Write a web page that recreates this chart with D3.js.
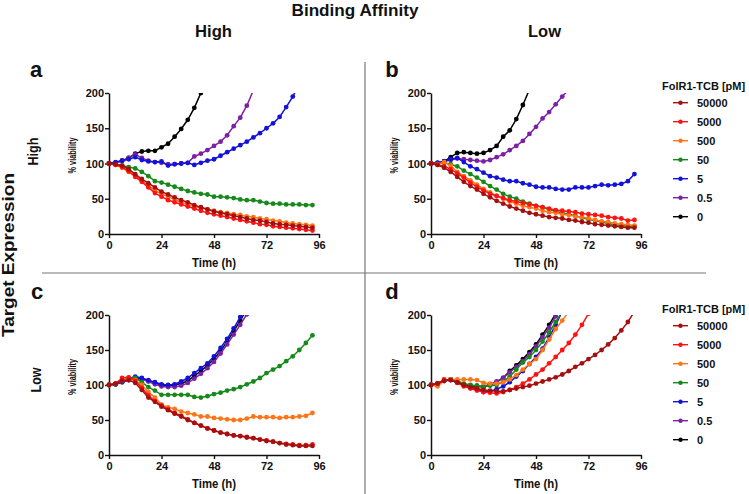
<!DOCTYPE html>
<html><head><meta charset="utf-8">
<script src="https://cdn.jsdelivr.net/npm/d3@7"></script>
<style>
html,body{margin:0;padding:0;background:#fff;}
svg{display:block;font-family:"Liberation Sans",Arial,sans-serif;}
</style></head><body>
<svg id="chart" width="749" height="494"></svg>
<script>
// ---- data ----
const times = [0,3,6,9,12,15,18,21,24,27,30,33,36,39,42,45,48,51,54,57,60,63,66,69,72,75,78,81,84,87,90,93];
const xTicks = [0,24,48,72,96];
const yTicks = [0,50,100,150,200];
const concentrations = ["50000","5000","500","50","5","0.5","0"];
const seriesColors = ["#a50f0f","#ff1212","#ff7417","#15891a","#1212d8","#7d20a6","#000000"];
const legendTitle = "FolR1-TCB [pM]";

// Panel a: high expression / high affinity
const a50000 = [100,99,97,92,85,78,72,66,60,56,52,48,45,41,38,35,32,30,28,26,24,22,20,19,17,15,14,13,12,11,10,9];
const a5000  = [100,98,95,89,81,74,66,58,53,48,45,42,39,36,33,30,28,26,24,22,20,18,16,14,13,11,10,9,8,7,6,5];
const a500   = [100,98,94,88,83,76,68,62,57,53,49,45,42,39,37,35,33,31,30,28,27,25,24,22,21,19,18,16,15,14,13,12];
const a50    = [100,99,97,95,93,88,82,75,73,70,67,64,61,59,57,56,53,53,52,51,49,48,48,46,44,43,43,42,42,42,41,41];
const a5     = [100,102,104,106,109,105,103,102,103,97,99,100,101,98,101,104,106,111,116,121,126,131,137,143,150,157,166,180,195,212];
const a05    = [100,101,104,108,113,108,104,102,101,99,99,100,101,110,114,119,125,131,140,153,165,182,204];
const a0     = [100,101,104,108,114,117,118,118,123,128,138,149,162,179,200];

// Panel b: high expression / low affinity
const b50000 = [100,98,94,88,81,74,68,63,57,52,47,43,39,36,33,30,28,26,24,23,22,20,19,17,16,14,13,12,11,10,9,9];
const b5000  = [100,98,96,92,86,80,73,67,62,57,54,51,48,46,44,42,40,38,36,34,33,32,31,29,28,27,26,24,23,22,19,20];
const b500   = [100,99,102,97,88,82,76,70,64,59,54,50,46,43,40,38,36,33,31,30,28,27,25,24,22,20,18,17,15,14,13,12];
const b50    = [100,99,101,99,96,90,85,80,74,68,63,57,53,50,46,43,40,38,35,32,30,28,26,23,21,19,17,15,13,12,11,11];
const b5     = [100,101,103,106,108,102,96,92,87,82,80,77,75,75,72,70,67,66,66,64,63,63,66,66,66,68,70,69,70,71,75,85];
const b05    = [100,101,103,105,107,106,105,104,103,105,109,113,119,125,132,142,152,164,173,184,195,205];
const b0     = [100,101,103,109,115,116,115,114,115,119,125,138,147,163,183,205];

// Panel c: low expression / high affinity
const c50000 = [100,102,106,107,103,93,82,76,69,64,59,55,50,46,42,38,35,32,30,28,27,25,24,22,20,19,17,15,14,13,13,13];
const c5000  = [100,102,110,111,106,96,85,77,71,65,60,56,51,46,42,38,35,32,30,28,27,26,24,22,21,19,17,16,15,14,14,15];
const c500   = [100,102,106,109,107,100,90,82,72,68,66,62,60,58,55,55,53,52,51,50,50,52,55,54,54,54,53,54,54,55,56,60];
const c50    = [100,101,106,110,110,104,97,92,86,86,86,86,86,83,82,84,87,89,92,94,97,101,105,110,117,122,127,134,141,150,160,171];
const c5     = [100,101,105,109,112,110,107,104,101,100,101,105,110,117,124,131,141,153,166,181,197,213];
const c05    = [100,101,104,107,109,108,105,101,98,97,97,99,103,109,116,124,133,145,158,172,186,201];
const c0     = [100,101,104,107,110,109,106,103,100,99,100,102,106,113,120,128,137,149,162,177,192,208];

// Panel d: low expression / low affinity
const d50000 = [100,102,106,107,104,100,97,95,93,92,91,91,93,95,97,99,102,105,108,111,115,120,126,131,137,143,150,158,167,178,190,205];
const d5000  = [100,102,108,107,103,98,95,92,90,89,88,90,93,97,102,108,115,122,131,140,150,160,172,186,202];
const d500   = [100,98,106,108,108,108,108,107,103,102,102,104,108,114,122,130,137,150,165,180,192,205];
const d50    = [100,102,106,108,106,102,100,99,98,99,100,105,112,122,132,140,150,162,175,190,205];
const d5     = [100,102,106,107,104,100,97,94,90,91,94,98,104,112,120,130,140,152,168,186,205];
const d05    = [100,102,106,108,104,100,99,99,98,101,105,110,118,126,134,144,155,168,182,198,215];
const d0     = [100,102,106,108,104,100,99,98,97,100,104,110,120,128,137,147,158,172,186,202];

const panels = [
  {id:"a", x0:109, x1:319, yb:234, yt:93,  lx:36,  series:[a50000,a5000,a500,a50,a5,a05,a0]},
  {id:"b", x0:431, x1:641, yb:234, yt:93,  lx:392, series:[b50000,b5000,b500,b50,b5,b05,b0]},
  {id:"c", x0:109, x1:319, yb:455, yt:315, lx:37,  series:[c50000,c5000,c500,c50,c5,c05,c0]},
  {id:"d", x0:431, x1:641, yb:455, yt:315, lx:392, series:[d50000,d5000,d500,d50,d5,d05,d0]}
];

const svg = d3.select("#chart");
const FONT = '"Liberation Sans",Arial,sans-serif';

function label(x, y, txt, size, opts={}) {
  const t = svg.append("text")
    .attr("x", x).attr("y", y)
    .attr("font-size", size).attr("font-weight", "bold")
    .attr("text-anchor", opts.anchor || "middle")
    .attr("fill", "#111").text(txt);
  if (opts.len) t.attr("textLength", opts.len).attr("lengthAdjust", "spacingAndGlyphs");
  if (opts.rot) t.attr("transform", `rotate(-90,${x},${y})`);
  return t;
}

// dividers
svg.append("line").attr("x1",365).attr("x2",365).attr("y1",62).attr("y2",494)
  .attr("stroke","#777").attr("stroke-width",1.2);
svg.append("line").attr("x1",42).attr("x2",706).attr("y1",273).attr("y2",273)
  .attr("stroke","#777").attr("stroke-width",1.2);

// headers
label(355, 16, "Binding Affinity", 16, {len:127});
label(213.5, 37, "High", 17, {len:37});
label(544.5, 37, "Low", 17, {len:33});
label(14, 255, "Target Expression", 16, {rot:true, len:164});
label(38, 151.5, "High", 14, {rot:true, len:28});
label(41, 380, "Low", 14, {rot:true, len:25});

panels.forEach((p, pi) => {
  const x = d3.scaleLinear().domain([0,96]).range([p.x0, p.x1]);
  const y = d3.scaleLinear().domain([0,200]).range([p.yb, p.yt]);
  const g = svg.append("g");
  const clipId = "clip" + p.id;
  svg.append("clipPath").attr("id", clipId).append("rect")
    .attr("x", p.x0 - 5).attr("y", p.yt).attr("width", p.x1 - p.x0 + 12).attr("height", p.yb - p.yt + 6);

  // axes
  const xa = g.append("g").attr("transform", `translate(0,${p.yb})`)
    .call(d3.axisBottom(x).tickValues(xTicks).tickSize(4).tickSizeOuter(0));
  const ya = g.append("g").attr("transform", `translate(${p.x0},0)`)
    .call(d3.axisLeft(y).tickValues(yTicks).tickSize(4).tickSizeOuter(0));
  [xa, ya].forEach(a => {
    a.select(".domain").attr("stroke", "#111").attr("stroke-width", 1.5);
    a.selectAll(".tick line").attr("stroke", "#111").attr("stroke-width", 1.4);
    a.selectAll(".tick text").attr("font-size", 11).attr("font-weight", "bold")
      .attr("font-family", FONT).attr("fill", "#111");
  });
  xa.selectAll(".tick text").attr("dy", "0.75em").attr("y", 7);
  ya.selectAll(".tick text").attr("x", -5);

  // axis titles
  label(72.5 + (p.x0 - 109), (p.yt + p.yb)/2 - 8, "% viability", 10.5, {rot:true, len:36}).attr("dy", 3.5);
  label((p.x0 + p.x1)/2, p.yb + 33, "Time (h)", 12, {len:44});

  // panel letter
  label(p.lx, p.yt - 16, p.id, 22, {anchor:"middle"});

  // series
  const plot = g.append("g").attr("clip-path", `url(#${clipId})`);
  const line = d3.line().x((d,i) => x(times[i])).y(d => y(d));
  p.series.slice().reverse().forEach((vals, ri) => {
    const si = p.series.length - 1 - ri;
    const col = seriesColors[si];
    plot.append("path").datum(vals).attr("d", line)
      .attr("fill", "none").attr("stroke", col).attr("stroke-width", 1.5);
    plot.selectAll(null).data(vals).enter().append("circle")
      .attr("cx", (d,i) => x(times[i])).attr("cy", d => y(d)).attr("r", 2.4)
      .attr("fill", col);
  });
});

// legends
function legend(top) {
  label(662, top, legendTitle, 11, {anchor:"start"});
  concentrations.forEach((c, i) => {
    const yy = top + 12.7 + i * 19;
    svg.append("line").attr("x1", 673).attr("x2", 688).attr("y1", yy).attr("y2", yy)
      .attr("stroke", seriesColors[i]).attr("stroke-width", 1.4);
    svg.append("circle").attr("cx", 680.5).attr("cy", yy).attr("r", 2.2).attr("fill", seriesColors[i]);
    label(697, yy + 4, c, 11, {anchor:"start"});
  });
}
legend(90);
legend(313);
</script>
</body></html>
